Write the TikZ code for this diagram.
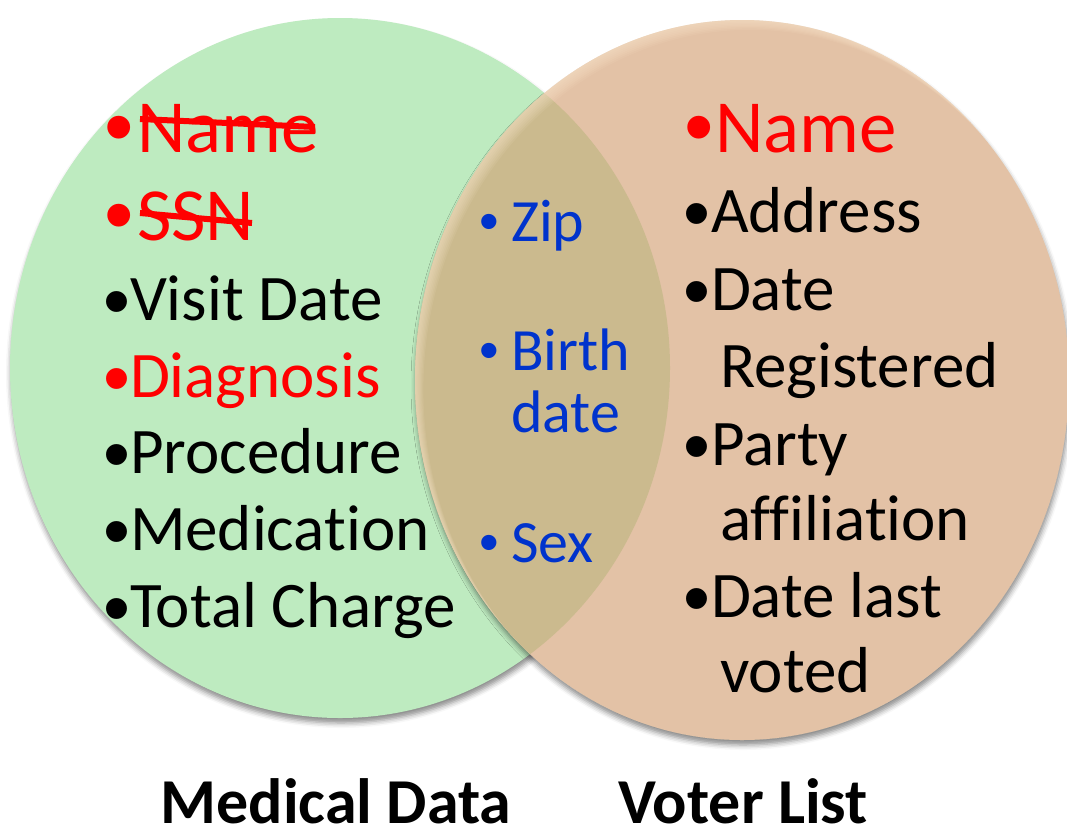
\documentclass[tikz,border=0pt]{standalone}
\usepackage{fontspec}
\setmainfont{Carlito}[Ligatures=NoCommon]
\newfontfamily\bulletfont{Liberation Sans}
\usetikzlibrary{shadows.blur}
\definecolor{grn}{RGB}{190,235,192}
\definecolor{org}{RGB}{227,194,166}
\definecolor{lens}{RGB}{203,186,142}
\definecolor{glow}{RGB}{255,236,210}
\definecolor{bl}{RGB}{0,51,204}
\definecolor{rd}{RGB}{255,0,0}
\begin{document}
\begin{tikzpicture}[x=1pt,y=-1pt,
  txt/.style={anchor=base west, inner sep=0pt, outer sep=0pt, font=\fontsize{65}{65}\selectfont},
  big/.style={anchor=base west, inner sep=0pt, outer sep=0pt, text=rd, font=\fontsize{75}{75}\selectfont},
  mid/.style={anchor=base west, inner sep=0pt, outer sep=0pt, text=bl, font=\fontsize{60}{60}\selectfont},
  bul/.style={anchor=base west, inner sep=0pt, outer sep=0pt, font=\bulletfont\fontsize{77}{77}\selectfont},
  bigbul/.style={anchor=base west, inner sep=0pt, outer sep=0pt, text=rd, font=\bulletfont\fontsize{84}{84}\selectfont},
  midbul/.style={anchor=base west, inner sep=0pt, outer sep=0pt, text=bl, font=\bulletfont\fontsize{56}{56}\selectfont},
  lab/.style={anchor=base, inner sep=0pt, outer sep=0pt, font=\fontsize{64}{64}\selectfont\bfseries},
  strike/.style={draw=rd, line width=6pt},
  shad/.style={blur shadow={shadow xshift=1pt, shadow yshift=-5pt, shadow blur radius=5pt, shadow opacity=45}}]
\useasboundingbox (0,0) rectangle (1067,831);
% shapes with shadows
\path[shad] (340,368) ellipse [x radius=330pt, y radius=350pt];
\fill[grn] (340,368) ellipse [x radius=330pt, y radius=350pt];
\path[shad] (742,380) ellipse [x radius=327pt, y radius=360pt];
\fill[org] (742,380) ellipse [x radius=327pt, y radius=360pt];
\begin{scope}
  \clip (340,368) ellipse [x radius=330pt, y radius=350pt];
  \fill[lens] (742,380) ellipse [x radius=327pt, y radius=360pt];
\end{scope}
% soft light edge on the upper left of the right shape
\begin{scope}
  \clip (742,380) ellipse [x radius=327pt, y radius=360pt];
  \foreach \s in {1,...,7}{
    \fill[glow, fill opacity=0.09, even odd rule]
      (742,380) ellipse [x radius=327pt, y radius=360pt]
      (742+\s*1.2,380+\s*1.4) ellipse [x radius=327pt, y radius=360pt];
  }
\end{scope}
% left list
\node[bigbul] (lb1) at (104.5,155) {•};
\node[big] (l1) at (137,152) {Name};
\node[bigbul] (lb2) at (104.5,243) {•};
\node[big] (l2) at (137,240) {SSN};
\node[bul] (lb3) at (103.5,327.3) {•};
\node[txt] (l3) at (130,320) {Visit Date};
\node[bul, text=rd] (lb4) at (103.5,404.3) {•};
\node[txt, text=rd] (l4) at (130,397) {Diagnosis};
\node[bul] (lb5) at (103.5,480.3) {•};
\node[txt] (l5) at (130,473) {Procedure};
\node[bul] (lb6) at (103.5,557.3) {•};
\node[txt] (l6) at (130,550) {Medication};
\node[bul] (lb7) at (103.5,634.3) {•};
\node[txt] (l7) at (130,627) {Total Charge};
\draw[strike] (140,119) -- (315,127);
\draw[strike] (140,213) -- (252,223);
% middle list
\node[midbul] (mb1) at (479,240.5) {•};
\node[mid] (m1) at (511,241) {Zip};
\node[midbul] (mb2) at (479,369.5) {•};
\node[mid] (m2) at (511,370) {Birth};
\node[mid] (m3) at (511,432) {date};
\node[midbul] (mb4) at (479,561.5) {•};
\node[mid] (m4) at (511,562) {Sex};
% right list
\node[bigbul] (rb1) at (684.5,155) {•};
\node[big] (r1) at (715,152) {Name};
\node[bul] (rb2) at (683.5,239.3) {•};
\node[txt] (r2) at (711,232) {Address};
\node[bul] (rb3) at (683.5,317.3) {•};
\node[txt] (r3) at (711,310) {Date};
\node[txt] (r4) at (720,387) {Registered};
\node[bul] (rb5) at (683.5,472.3) {•};
\node[txt] (r5) at (711,465) {Party};
\node[txt] (r6) at (720,540) {affiliation};
\node[bul] (rb7) at (683.5,624.3) {•};
\node[txt] (r7) at (711,617) {Date last};
\node[txt] (r8) at (720,692) {voted};
% labels
\node[lab] (t1) at (336,823) {Medical Data};
\node[lab] (t2) at (743,823) {Voter List};
\end{tikzpicture}
\end{document}
